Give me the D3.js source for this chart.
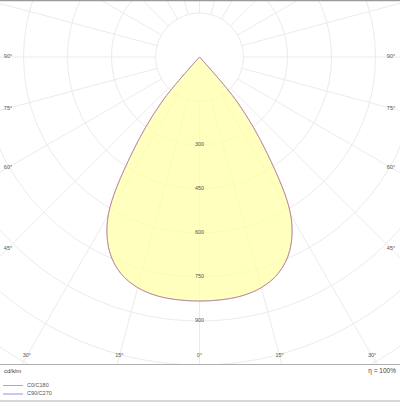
<!DOCTYPE html>
<html>
<head>
<meta charset="utf-8">
<script src="https://cdn.jsdelivr.net/npm/d3@7"></script>
<style>
  html, body { margin: 0; padding: 0; background: #fff; }
  svg { display: block; font-family: "Liberation Sans", Arial, sans-serif; }
</style>
</head>
<body>
<svg id="chart" width="400" height="402"></svg>
<script>
// ---- data ----
const gammas   = [0, 5, 10, 15, 20, 25, 30, 35, 40, 45, 50, 55, 60, 65, 70, 75, 80, 85, 90];
const c0c180   = [832, 831, 827, 814, 785, 728, 622, 405, 200, 0, 0, 0, 0, 0, 0, 0, 0, 0, 0];
const c90c270  = [832, 831, 827, 814, 785, 728, 622, 405, 200, 0, 0, 0, 0, 0, 0, 0, 0, 0, 0];
const ringValues = [150, 300, 450, 600, 750, 900, 1050, 1200, 1350];
const ringLabels = [300, 450, 600, 750, 900];
const angleLabels = [0, 15, 30, 45, 60, 75, 90];
const seriesNames = ["C0/C180", "C90/C270"];
const unitLabel = "cd/klm";
const effLabel = "η = 100%";

// ---- layout ----
const W = 400, H = 402;
const cx = 199.5, cy = 57;
const plotBottom = 364;
const r = d3.scaleLinear().domain([0, 900]).range([0, 264]);
const rad = d => d * Math.PI / 180;
const gridColor = "#ebebeb";

const svg = d3.select("#chart");
svg.append("defs").append("clipPath").attr("id", "plotclip")
  .append("rect").attr("x", 0).attr("y", 1).attr("width", W).attr("height", plotBottom - 1);

const plot = svg.append("g").attr("clip-path", "url(#plotclip)");
const g = plot.append("g").attr("transform", `translate(${cx},${cy})`);

// grid rings
g.selectAll("circle.ring").data(ringValues).join("circle")
  .attr("class", "ring").attr("r", d => r(d))
  .attr("fill", "none").attr("stroke", gridColor).attr("stroke-width", 1);

// grid rays every 15 deg
const rayAngles = d3.range(0, 360, 15);
g.selectAll("line.ray").data(rayAngles).join("line")
  .attr("class", "ray")
  .attr("x1", d => r(150) * Math.sin(rad(d)))
  .attr("y1", d => r(150) * Math.cos(rad(d)))
  .attr("x2", d => r(1500) * Math.sin(rad(d)))
  .attr("y2", d => r(1500) * Math.cos(rad(d)))
  .attr("stroke", gridColor).attr("stroke-width", 1);

// build closed lobe points: gamma from -90 .. 90
function lobePoints(vals) {
  const pts = [];
  for (let i = gammas.length - 1; i >= 0; i--) pts.push({ a: Math.PI + rad(gammas[i]), v: vals[i] });
  for (let i = 1; i < gammas.length; i++) pts.push({ a: Math.PI - rad(gammas[i]), v: vals[i] });
  return pts;
}
const lineR = d3.lineRadial()
  .angle(d => d.a)
  .radius(d => r(d.v))
  .curve(d3.curveCatmullRom.alpha(0.5));

// fill (translucent so grid shows through)
g.append("path").attr("d", lineR(lobePoints(c0c180)) + "Z")
  .attr("fill", "rgb(255,255,165)").attr("fill-opacity", 0.72).attr("stroke", "none");

// outlines
g.append("path").attr("d", lineR(lobePoints(c0c180)) + "Z")
  .attr("fill", "none").attr("stroke", "#d08a8a").attr("stroke-width", 1);
g.append("path").attr("d", lineR(lobePoints(c90c270)) + "Z")
  .attr("fill", "none").attr("stroke", "#8a8ad0").attr("stroke-width", 1).attr("stroke-opacity", 0.35);

// ring labels along 0 deg axis
g.selectAll("text.rl").data(ringLabels).join("text")
  .attr("class", "rl").attr("x", 0).attr("y", d => r(d))
  .attr("text-anchor", "middle").attr("dominant-baseline", "middle")
  .attr("font-size", 5.5).attr("fill", "#555").text(d => d);

// angle labels where rays meet an inset rectangle
const inL = 8, inR = 391, inB = 356;
const angPos = [];
angleLabels.forEach(a => {
  const sides = a === 0 ? [1] : [-1, 1];
  sides.forEach(s => {
    const dx = s * Math.sin(rad(a)), dy = Math.cos(rad(a));
    let t = Infinity;
    if (dx > 1e-9) t = Math.min(t, (inR - cx) / dx);
    if (dx < -1e-9) t = Math.min(t, (inL - cx) / dx);
    if (dy > 1e-9) t = Math.min(t, (inB - cy) / dy);
    angPos.push({ label: a + "°", x: cx + t * dx, y: cy + t * dy });
  });
});
svg.selectAll("text.al").data(angPos).join("text")
  .attr("class", "al").attr("x", d => d.x).attr("y", d => d.y)
  .attr("text-anchor", "middle").attr("dominant-baseline", "middle")
  .attr("font-size", 5.5).attr("fill", "#555").text(d => d.label);

// frame lines
svg.append("line").attr("x1", 0).attr("x2", W).attr("y1", 0.5).attr("y2", 0.5)
  .attr("stroke", "#9a9a9a").attr("stroke-width", 1.5);
svg.append("line").attr("x1", 0).attr("x2", W).attr("y1", plotBottom + 0.5).attr("y2", plotBottom + 0.5)
  .attr("stroke", "#b0b0b0").attr("stroke-width", 1);
svg.append("line").attr("x1", 0).attr("x2", W).attr("y1", 401).attr("y2", 401)
  .attr("stroke", "#b0b0b0").attr("stroke-width", 1.2);

// footer texts
svg.append("text").attr("x", 4).attr("y", 371).attr("dominant-baseline", "middle")
  .attr("font-size", 6).attr("fill", "#444").text(unitLabel);
svg.append("text").attr("x", 396).attr("y", 371).attr("dominant-baseline", "middle")
  .attr("text-anchor", "end").attr("font-size", 6.5).attr("fill", "#444").text(effLabel);

// legend
const legColors = ["#f09090", "#9090e0"];
const leg = svg.selectAll("g.leg").data(seriesNames).join("g")
  .attr("class", "leg").attr("transform", (d, i) => `translate(0,${385.5 + i * 8.5})`);
leg.append("line").attr("x1", 3).attr("x2", 23).attr("y1", 0).attr("y2", 0)
  .attr("stroke", d => legColors[seriesNames.indexOf(d)]).attr("stroke-width", 1);
leg.append("text").attr("x", 27).attr("y", 0).attr("dominant-baseline", "middle")
  .attr("font-size", 5.5).attr("fill", "#555").text(d => d);
</script>
</body>
</html>
